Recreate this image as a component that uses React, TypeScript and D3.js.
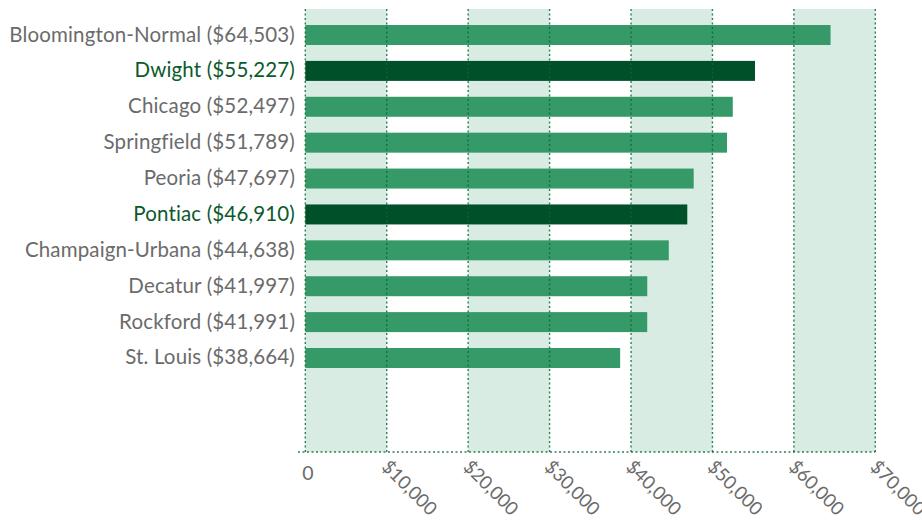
import React from "react";
import * as d3 from "d3";

const cities = [
  "Bloomington-Normal",
  "Dwight",
  "Chicago",
  "Springfield",
  "Peoria",
  "Pontiac",
  "Champaign-Urbana",
  "Decatur",
  "Rockford",
  "St. Louis",
];
const incomes = [64503, 55227, 52497, 51789, 47697, 46910, 44638, 41997, 41991, 38664];
const highlighted = ["Dwight", "Pontiac"];
const tickValues = [0, 10000, 20000, 30000, 40000, 50000, 60000, 70000];

const W = 922;
const H = 520;
const FONT = "Lato, 'Open Sans', sans-serif";

export default function App() {
  const x = d3.scaleLinear().domain([0, 70000]).range([305.3, 875.3]);
  const y = d3
    .scaleBand<string>()
    .domain(cities)
    .range([9, 384])
    .paddingInner(0.443)
    .paddingOuter(0.446);
  const plotTop = 9;
  const plotBottom = 452;
  const fmt = d3.format(",");
  const bands = d3.range(0, 70000, 20000);
  const gridColor = "#0a6b38";

  return (
    <svg
      width={W}
      height={H}
      style={{ position: "absolute", left: 0, top: 0, display: "block" }}
      fontFamily={FONT}
    >
      <rect x={0} y={0} width={W} height={H} fill="#ffffff" />
      {bands.map((b) => (
        <rect
          key={b}
          x={x(b)}
          y={plotTop}
          width={x(b + 10000) - x(b)}
          height={plotBottom - plotTop}
          fill="#d8ece4"
        />
      ))}
      {cities.map((c, i) => {
        const hl = highlighted.includes(c);
        return (
          <rect
            key={c}
            x={x(0)}
            y={y(c)}
            width={x(incomes[i]) - x(0)}
            height={y.bandwidth()}
            fill={hl ? "#00502a" : "#359a68"}
          />
        );
      })}
      {tickValues.map((t) => (
        <line
          key={t}
          x1={x(t)}
          x2={x(t)}
          y1={plotTop}
          y2={plotBottom}
          stroke={gridColor}
          strokeWidth={1.4}
          strokeDasharray="2,2.5"
          opacity={0.85}
        />
      ))}
      <line
        x1={298}
        x2={x(70000)}
        y1={plotBottom}
        y2={plotBottom}
        stroke={gridColor}
        strokeWidth={1.4}
        strokeDasharray="2,2.5"
        opacity={0.85}
      />
      {cities.map((c, i) => {
        const hl = highlighted.includes(c);
        return (
          <text
            key={c}
            x={295}
            y={(y(c) as number) + y.bandwidth() / 2 + 6.5}
            textAnchor="end"
            fontSize={20.5}
            letterSpacing={0.15}
            fill={hl ? "#0b5a2c" : "#6b6b6b"}
          >
            {`${c} ($${fmt(incomes[i])})`}
          </text>
        );
      })}
      {tickValues.map((t) =>
        t === 0 ? (
          <text key={t} x={x(t) - 3} y={480} fontSize={19.5} fill="#6b6b6b">
            0
          </text>
        ) : (
          <text
            key={t}
            transform={`translate(${x(t) - 6},${468}) rotate(45)`}
            fontSize={18.5}
            fill="#6b6b6b"
          >
            {`$${fmt(t)}`}
          </text>
        )
      )}
    </svg>
  );
}
